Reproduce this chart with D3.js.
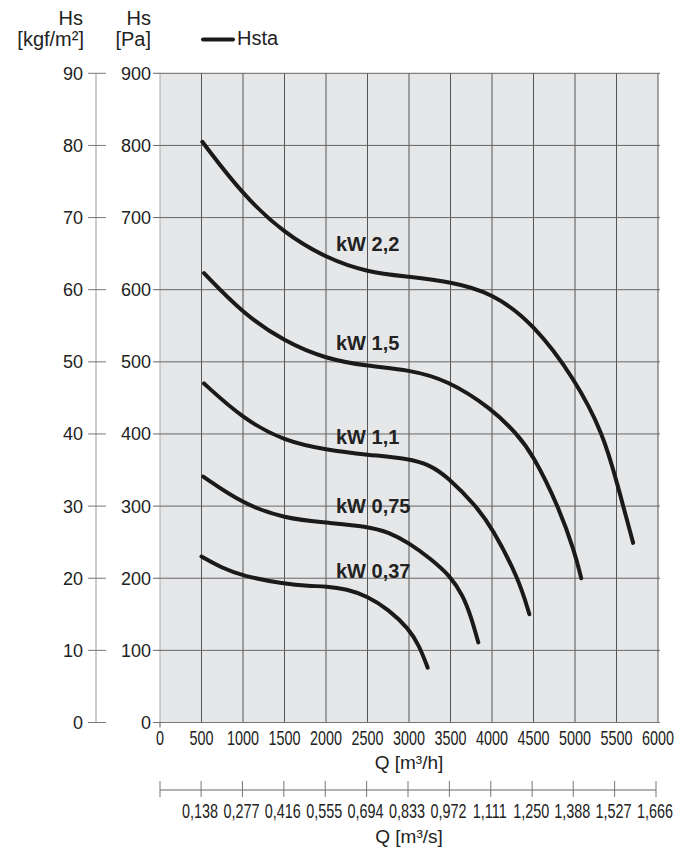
<!DOCTYPE html>
<html>
<head>
<meta charset="utf-8">
<script src="https://cdn.jsdelivr.net/npm/d3@7"></script>
<style>
  html, body { margin: 0; padding: 0; background: #fff; }
  svg { display: block; font-family: "Liberation Sans", Arial, Helvetica, sans-serif; }
</style>
</head>
<body>
<svg id="chart" width="683" height="851"></svg>
<script>
// ---- data ----
const qTicks = [0, 500, 1000, 1500, 2000, 2500, 3000, 3500, 4000, 4500, 5000, 5500, 6000];
const paTicks = [0, 100, 200, 300, 400, 500, 600, 700, 800, 900];
const kgfTicks = [0, 10, 20, 30, 40, 50, 60, 70, 80, 90];
const qsTicks = [0.138, 0.277, 0.416, 0.555, 0.694, 0.833, 0.972, 1.111, 1.250, 1.388, 1.527, 1.666];
const qsTickLabels = ["0,138", "0,277", "0,416", "0,555", "0,694", "0,833", "0,972", "1,111", "1,250", "1,388", "1,527", "1,666"];

const curve22 = [[510,805],[1000,731],[1500,678],[2000,644],[2500,624],[3000,618],[3500,611],[4000,596],[4500,553],[5000,476],[5340,400],[5500,335],[5700,249]];
const curve15 = [[530,623],[1000,567],[1500,528],[2000,504],[2500,494],[3000,489],[3460,475],[4000,435],[4300,400],[4490,372],[4800,300],[5000,235],[5075,200]];
const curve11 = [[530,470],[1000,421],[1500,390],[2000,378],[2500,371],[3000,366],[3250,357],[3460,341],[3810,300],[4000,270],[4320,200],[4450,150]];
const curve075 = [[520,341],[1000,303],[1500,283],[2000,277],[2500,272],[2750,264],[3000,249],[3250,228],[3500,203],[3650,176],[3750,146],[3835,111]];
const curve037 = [[500,230],[750,214],[1000,203],[1500,192],[1800,189],[2000,189],[2250,185],[2500,175],[2750,157],[3000,130],[3125,106],[3225,76]];

const curveNames = ["kW 2,2", "kW 1,5", "kW 1,1", "kW 0,75", "kW 0,37"];
const curveLabelQ = [2120, 2120, 2120, 2120, 2120];
const curveLabelH = [653, 516, 386, 290, 201];

// ---- layout ----
const svg = d3.select("#chart");
const x = d3.scaleLinear().domain([0, 6000]).range([160, 658]);
const y = d3.scaleLinear().domain([0, 900]).range([722.5, 73.3]);
const yk = d3.scaleLinear().domain([0, 90]).range([722.5, 73.3]);
const xs = d3.scaleLinear().domain([0, 1.666]).range([160, 656]);

// background
svg.append("rect")
  .attr("x", x(0)).attr("y", y(900))
  .attr("width", x(6000) - x(0)).attr("height", y(0) - y(900))
  .attr("fill", "#e6e7e9");

// grid verticals
svg.append("g").selectAll("line").data(qTicks.filter(d => d > 0)).join("line")
  .attr("x1", d => x(d)).attr("x2", d => x(d))
  .attr("y1", y(900)).attr("y2", y(0))
  .attr("stroke", "#555").attr("stroke-width", 1);
// left edge
svg.append("line").attr("x1", x(0)).attr("x2", x(0)).attr("y1", y(900)).attr("y2", y(0))
  .attr("stroke", "#aaa").attr("stroke-width", 1);
// grid horizontals
svg.append("g").selectAll("line").data(paTicks).join("line")
  .attr("x1", x(0) - 7).attr("x2", x(6000) + 2)
  .attr("y1", d => y(d)).attr("y2", d => y(d))
  .attr("stroke", d => d === 0 ? "#777" : "#666").attr("stroke-width", 1);

// Pa labels
svg.append("g").selectAll("text").data(paTicks).join("text")
  .attr("x", 151).attr("y", d => y(d) + 6.5)
  .attr("text-anchor", "end").attr("font-size", 18).attr("fill", "#222")
  .text(d => d);

// kgf axis
svg.append("line").attr("x1", 96).attr("x2", 96).attr("y1", yk(90)).attr("y2", yk(0))
  .attr("stroke", "#999").attr("stroke-width", 1);
svg.append("g").selectAll("line").data(kgfTicks).join("line")
  .attr("x1", 88).attr("x2", 106).attr("y1", d => yk(d)).attr("y2", d => yk(d))
  .attr("stroke", "#777").attr("stroke-width", 1);
svg.append("g").selectAll("text").data(kgfTicks).join("text")
  .attr("x", 83).attr("y", d => yk(d) + 6.5)
  .attr("text-anchor", "end").attr("font-size", 18).attr("fill", "#222")
  .text(d => d);

// x tick mark at origin
svg.append("line").attr("x1", x(0)).attr("x2", x(0)).attr("y1", y(0)).attr("y2", y(0) + 5)
  .attr("stroke", "#555");

// x labels (condensed)
svg.append("g").selectAll("text").data(qTicks).join("text")
  .attr("transform", d => `translate(${x(d)},745) scale(0.72,1)`)
  .attr("text-anchor", "middle").attr("font-size", 20).attr("fill", "#222")
  .text(d => d);
svg.append("text").attr("x", x(3000)).attr("y", 769)
  .attr("text-anchor", "middle").attr("font-size", 19).attr("fill", "#222")
  .text("Q [m³/h]");

// secondary axis
svg.append("line").attr("x1", xs(0)).attr("x2", xs(1.666)).attr("y1", 790).attr("y2", 790)
  .attr("stroke", "#666").attr("stroke-width", 1);
svg.append("g").selectAll("line").data([0].concat(qsTicks)).join("line")
  .attr("x1", d => xs(d)).attr("x2", d => xs(d)).attr("y1", 781).attr("y2", 797)
  .attr("stroke", "#777").attr("stroke-width", 1);
svg.append("g").selectAll("text").data(qsTicks).join("text")
  .attr("transform", d => `translate(${xs(d) - 1},818) scale(0.72,1)`)
  .attr("text-anchor", "middle").attr("font-size", 20).attr("fill", "#222")
  .text((d, i) => qsTickLabels[i]);
svg.append("text").attr("x", x(3000)).attr("y", 843)
  .attr("text-anchor", "middle").attr("font-size", 19).attr("fill", "#222")
  .text("Q [m³/s]");

// header
const hdr = svg.append("g").attr("font-size", 20).attr("fill", "#222").attr("text-anchor", "end");
hdr.append("text").attr("x", 83).attr("y", 25).text("Hs");
hdr.append("text").attr("x", 84).attr("y", 46).text("[kgf/m²]");
hdr.append("text").attr("x", 151).attr("y", 25).text("Hs");
hdr.append("text").attr("x", 151).attr("y", 46).text("[Pa]");
svg.append("line").attr("x1", 203).attr("x2", 233).attr("y1", 39.5).attr("y2", 39.5)
  .attr("stroke", "#1a1a1a").attr("stroke-width", 4).attr("stroke-linecap", "round");
svg.append("text").attr("x", 237).attr("y", 45).attr("font-size", 20).attr("fill", "#222").text("Hsta");

// curves
const line = d3.line().x(d => x(d[0])).y(d => y(d[1])).curve(d3.curveBasis);
const curves = [curve22, curve15, curve11, curve075, curve037];
svg.append("g").selectAll("path").data(curves).join("path")
  .attr("d", line)
  .attr("fill", "none").attr("stroke", "#1a1a1a").attr("stroke-width", 4)
  .attr("stroke-linecap", "round").attr("stroke-linejoin", "round");

// curve labels
svg.append("g").selectAll("text").data(curveNames).join("text")
  .attr("x", (d, i) => x(curveLabelQ[i])).attr("y", (d, i) => y(curveLabelH[i]))
  .attr("font-size", 20).attr("font-weight", "bold").attr("fill", "#222")
  .text(d => d);
</script>
</body>
</html>
